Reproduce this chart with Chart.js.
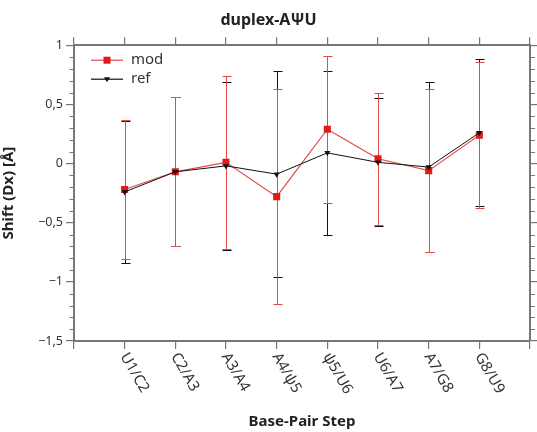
<!DOCTYPE html>
<html>
<head>
<meta charset="utf-8">
<script src="https://cdn.jsdelivr.net/npm/chart.js@4.4.1/dist/chart.umd.min.js"></script>
<style>
    body { margin: 0; background: #fff; }
    #cadre { width: 537px; height: 432px; }
</style>
</head>
<body>
<div id="cadre"><canvas id="graphique" width="537" height="432"></canvas></div>
<script>
// Pas de base (étiquettes de l'axe x)
const etapes = ['U1/C2', 'C2/A3', 'A3/A4', 'A4/ψ5', 'ψ5/U6', 'U6/A7', 'A7/G8', 'G8/U9'];

// Shift (Dx) moyen et écart-type, structure modifiée
const modMoyenne = [-0.22, -0.07, 0.01, -0.28, 0.29, 0.04, -0.06, 0.24];
const modEcart = [0.59, 0.63, 0.73, 0.91, 0.62, 0.56, 0.69, 0.62];

// Shift (Dx) moyen et écart-type, structure de référence
const refMoyenne = [-0.24, -0.07, -0.02, -0.09, 0.09, 0.01, -0.03, 0.26];
const refEcart = [0.60, 0.63, 0.71, 0.87, 0.69, 0.54, 0.72, 0.62];

const POLICE = "'Noto Sans', 'Open Sans', sans-serif";
const GRIS_AXE = '#767676';
const ROUGE = '#e31a1a';
const ROUGE_LIGNE = '#e24a4a';
const NOIR = '#111111';

function versPoints(moyennes) {
    // associe chaque valeur à la position 1..n de son pas de base
    return moyennes.map((v, i) => ({ x: i + 1, y: v }));
}

function formatNombre(v) {
    // virgule décimale et vrai signe moins
    if (Math.abs(v) < 1e-9) return '0';
    return String(v).replace('-', '\u2212').replace('.', ',');
}

// Barres d'erreur (moyenne ± écart-type), dessinées sous les courbes
const barresErreur = {
    id: 'barresErreur',
    beforeDatasetsDraw(chart) {
        const { ctx, scales: { x, y } } = chart;
        const series = [
            { moy: refMoyenne, sd: refEcart, couleur: NOIR },
            { moy: modMoyenne, sd: modEcart, couleur: ROUGE_LIGNE },
        ];
        ctx.save();
        ctx.lineWidth = 1;
        for (const s of series) {
            ctx.strokeStyle = s.couleur;
            s.moy.forEach((m, i) => {
                // alignement sur le pixel pour que le rouge recouvre bien le noir
                const px = Math.round(x.getPixelForValue(i + 1)) + 0.5;
                const haut = Math.round(y.getPixelForValue(m + s.sd[i])) + 0.5;
                const bas = Math.round(y.getPixelForValue(m - s.sd[i])) + 0.5;
                ctx.beginPath();
                ctx.moveTo(px, haut);
                ctx.lineTo(px, bas);
                ctx.moveTo(px - 4, haut);
                ctx.lineTo(px + 5, haut);
                ctx.moveTo(px - 4, bas);
                ctx.lineTo(px + 5, bas);
                ctx.stroke();
            });
        }
        ctx.restore();
    },
};

// Petites graduations tous les 0,1 sur les axes gauche et droit
const graduationsMineures = {
    id: 'graduationsMineures',
    afterDraw(chart) {
        const { ctx, chartArea, scales: { y } } = chart;
        ctx.save();
        ctx.strokeStyle = GRIS_AXE;
        ctx.lineWidth = 1.2;
        for (let k = -15; k <= 10; k++) {
            if (k % 5 === 0) continue;
            const py = Math.round(y.getPixelForValue(k / 10)) + 0.5;
            ctx.beginPath();
            ctx.moveTo(chartArea.left - 4.5, py);
            ctx.lineTo(chartArea.left, py);
            ctx.moveTo(chartArea.right, py);
            ctx.lineTo(chartArea.right + 5, py);
            ctx.stroke();
        }
        ctx.restore();
    },
};

// Étiquettes inclinées sous l'axe x, le texte part de la graduation vers le bas
const etiquettesInclinees = {
    id: 'etiquettesInclinees',
    afterDraw(chart) {
        const { ctx, scales: { x } } = chart;
        ctx.save();
        ctx.fillStyle = '#333';
        ctx.font = '15px ' + POLICE;
        ctx.textAlign = 'left';
        ctx.textBaseline = 'middle';
        etapes.forEach((nom, i) => {
            const px = x.getPixelForValue(i + 1);
            ctx.save();
            ctx.translate(px - 1, x.top + 13);
            ctx.rotate(Math.PI / 3);
            ctx.fillText(nom, 0, 0);
            ctx.restore();
        });
        ctx.restore();
    },
};

// Légende dans le coin haut gauche de la zone de tracé
const legendeInterne = {
    id: 'legendeInterne',
    afterDraw(chart) {
        const { ctx, chartArea } = chart;
        const x0 = chartArea.left + 17;
        const x1 = chartArea.left + 49;
        const xm = (x0 + x1) / 2;
        const lignes = [
            { nom: 'mod', y: chartArea.top + 15, trait: ROUGE_LIGNE, marque: 'carre' },
            { nom: 'ref', y: chartArea.top + 34, trait: NOIR, marque: 'triangle' },
        ];
        ctx.save();
        for (const l of lignes) {
            ctx.strokeStyle = l.trait;
            ctx.lineWidth = 1.2;
            ctx.beginPath();
            ctx.moveTo(x0, l.y);
            ctx.lineTo(x1, l.y);
            ctx.stroke();
            if (l.marque === 'carre') {
                ctx.fillStyle = ROUGE;
                ctx.fillRect(xm - 3.5, l.y - 3.5, 7, 7);
            } else {
                ctx.fillStyle = NOIR;
                ctx.beginPath();
                ctx.moveTo(xm - 3, l.y - 2);
                ctx.lineTo(xm + 3, l.y - 2);
                ctx.lineTo(xm, l.y + 3);
                ctx.closePath();
                ctx.fill();
            }
            ctx.fillStyle = '#333';
            ctx.font = '15px ' + POLICE;
            ctx.textAlign = 'left';
            ctx.textBaseline = 'middle';
            ctx.fillText(l.nom, x1 + 8, l.y);
        }
        ctx.restore();
    },
};

function fixerTaille(propriete, valeur) {
    return (scale) => { scale[propriete] = valeur; };
}

const grilleAxe = {
    display: true,
    drawOnChartArea: false,
    drawTicks: true,
    tickLength: 8,
    color: GRIS_AXE,
    lineWidth: 1.2,
};
const bordureAxe = { display: true, color: GRIS_AXE, width: 2 };

new Chart(document.getElementById('graphique'), {
    type: 'line',
    data: {
        datasets: [
            {
                label: 'mod',
                data: versPoints(modMoyenne),
                borderColor: ROUGE_LIGNE,
                borderWidth: 1.2,
                backgroundColor: ROUGE,
                pointStyle: 'rect',
                pointRadius: 5,
                pointBorderColor: ROUGE,
                pointBackgroundColor: ROUGE,
                pointBorderWidth: 0,
                tension: 0,
                order: 2,
            },
            {
                label: 'ref',
                data: versPoints(refMoyenne),
                borderColor: NOIR,
                borderWidth: 1,
                backgroundColor: NOIR,
                pointStyle: 'triangle',
                pointRotation: 180,
                pointRadius: 3.5,
                pointBorderColor: NOIR,
                pointBackgroundColor: NOIR,
                pointBorderWidth: 0,
                tension: 0,
                order: 1,
            },
        ],
    },
    options: {
        responsive: false,
        animation: false,
        layout: { padding: 0 },
        plugins: {
            legend: { display: false },
            tooltip: { enabled: false },
            title: {
                display: true,
                text: 'duplex-AΨU',
                color: '#222',
                font: { family: POLICE, size: 16, weight: 'bold' },
                padding: { top: 11, bottom: 6 },
            },
        },
        scales: {
            x: {
                type: 'linear',
                position: 'bottom',
                min: 0,
                max: 9,
                ticks: { stepSize: 1, display: false },
                grid: grilleAxe,
                border: bordureAxe,
                title: {
                    display: true,
                    text: 'Base-Pair Step',
                    color: '#222',
                    font: { family: POLICE, size: 15, weight: 'bold' },
                    padding: { top: 0, bottom: 1 },
                },
                afterFit: fixerTaille('height', 91),
            },
            x2: {
                type: 'linear',
                position: 'top',
                display: true,
                min: 0,
                max: 9,
                ticks: { stepSize: 1, display: false },
                grid: grilleAxe,
                border: bordureAxe,
                afterFit: fixerTaille('height', 9),
            },
            y: {
                type: 'linear',
                position: 'left',
                min: -1.5,
                max: 1,
                ticks: {
                    stepSize: 0.5,
                    padding: 3,
                    color: '#333',
                    font: { family: POLICE, size: 12.5 },
                    callback: (v) => formatNombre(v),
                },
                grid: grilleAxe,
                border: bordureAxe,
                title: {
                    display: true,
                    text: 'Shift (Dx) [Å]',
                    color: '#222',
                    font: { family: POLICE, size: 15, weight: 'bold' },
                    padding: { top: 0, bottom: 0 },
                },
                afterFit: fixerTaille('width', 74),
            },
            y2: {
                type: 'linear',
                position: 'right',
                display: true,
                min: -1.5,
                max: 1,
                ticks: { stepSize: 0.5, display: false },
                grid: grilleAxe,
                border: bordureAxe,
                afterFit: fixerTaille('width', 7),
            },
        },
    },
    plugins: [barresErreur, graduationsMineures, etiquettesInclinees, legendeInterne],
});
</script>
</body>
</html>
